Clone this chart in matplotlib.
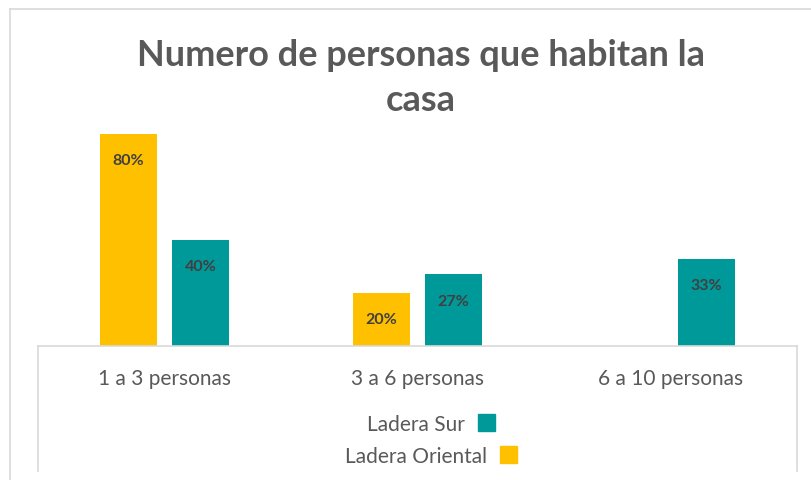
import matplotlib.pyplot as plt
from matplotlib.lines import Line2D
from matplotlib.patches import Patch
import numpy as np

categorias = ['1 a 3 personas', '3 a 6 personas', '6 a 10 personas']
ladera_oriental = [80, 20, 0]
ladera_sur = [40, 27, 33]

naranja = '#FFC000'
verde = '#009999'
gris = '#595959'
borde = '#D9D9D9'

W, H = 811, 481
fig = plt.figure(figsize=(W / 100, H / 100), dpi=100)

# ejes en pixeles: base en y=347, de x=38 a x=797
base, arriba = 347, 120
ax = fig.add_axes([38 / W, 1 - base / H, (797 - 38) / W, (base - arriba) / H])

x = np.arange(len(categorias))
ancho = 0.225
off = 0.143
b1 = ax.bar(x - off, ladera_oriental, ancho, color=naranja, label='Ladera Oriental')
b2 = ax.bar(x + off, ladera_sur, ancho, color=verde, label='Ladera Sur')

for barras, vals in [(b1, ladera_oriental), (b2, ladera_sur)]:
    for r, v in zip(barras, vals):
        if v == 0:
            continue
        ax.annotate(f'{v}%', (r.get_x() + r.get_width() / 2, v),
                    xytext=(0, -19), textcoords='offset points',
                    ha='center', va='center', fontsize=11.5, fontweight='bold',
                    color='#404040', family='Lato')

ax.set_xlim(-0.5, 2.5)
ax.set_ylim(0, (base - arriba) / 2.65)
ax.set_yticks([])
ax.set_xticks(x)
ax.set_xticklabels(categorias, fontsize=15, color=gris, family='Lato')
ax.tick_params(axis='x', length=0, pad=16)
for s in ['top', 'left', 'right']:
    ax.spines[s].set_visible(False)
ax.spines['bottom'].set_color(borde)
ax.spines['bottom'].set_linewidth(1.2)

# caja del eje de categorias y borde exterior
def linea(x0, y0, x1, y1):
    fig.add_artist(Line2D([x0 / W, x1 / W], [1 - y0 / H, 1 - y1 / H],
                          color=borde, lw=1.2))

linea(38, base, 38, 472)
linea(797, base, 797, 472)
linea(10, 10, 811, 10)
linea(10, 10, 10, 481)

fig.text(421 / W, 1 - 78 / H, 'Numero de personas que habitan la\ncasa',
         ha='center', va='center', fontsize=26, fontweight='bold',
         color=gris, family='Lato', linespacing=1.42)

# leyenda, cada fila centrada por separado
for etiqueta, color, yc in [('Ladera Sur', verde, 425), ('Ladera Oriental', naranja, 457)]:
    fig.legend(handles=[Patch(color=color, label=etiqueta)],
               loc='center', bbox_to_anchor=(431 / W, 1 - yc / H),
               frameon=False, markerfirst=False,
               handlelength=0.8, handleheight=0.85, handletextpad=0.6,
               borderpad=0, labelcolor=gris, prop={'family': 'Lato', 'size': 15})

fig.savefig('out.png', dpi=100)
